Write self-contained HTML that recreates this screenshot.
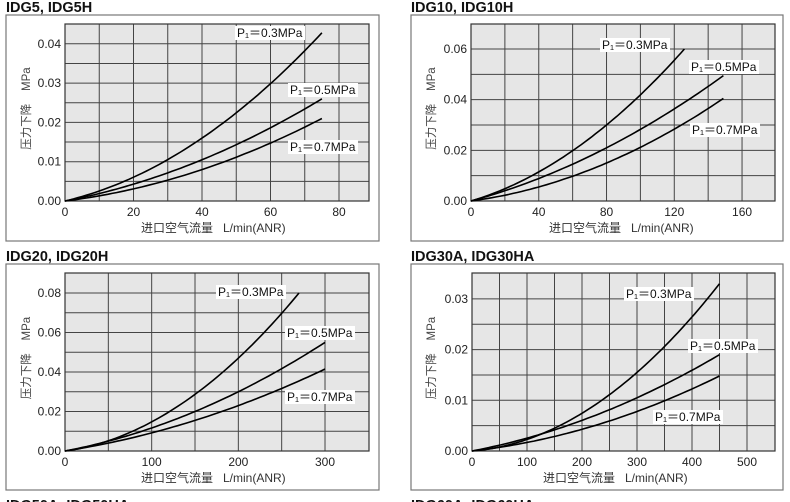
<!DOCTYPE html>
<html><head><meta charset="utf-8"><style>
html,body{margin:0;padding:0;background:#fff;width:790px;height:502px;overflow:hidden}
svg{display:block}
text{font-family:"Liberation Sans","Noto Sans CJK SC",sans-serif}
</style></head><body>
<svg id="s" width="790" height="502" xmlns="http://www.w3.org/2000/svg">
<text x="6" y="12" font-size="14.5" font-weight="bold" fill="#111">IDG5, IDG5H</text>
<text x="411" y="12" font-size="14.5" font-weight="bold" fill="#111">IDG10, IDG10H</text>
<text x="6" y="261" font-size="14.5" font-weight="bold" fill="#111">IDG20, IDG20H</text>
<text x="411" y="261" font-size="14.5" font-weight="bold" fill="#111">IDG30A, IDG30HA</text>
<text x="6" y="510" font-size="14.5" font-weight="bold" fill="#111">IDG50A, IDG50HA</text>
<text x="411" y="510" font-size="14.5" font-weight="bold" fill="#111">IDG60A, IDG60HA</text>
</svg>
<script>
var s=document.getElementById('s'),NS='http://www.w3.org/2000/svg';
function el(t,a,txt){var e=document.createElementNS(NS,t);for(var k in a)e.setAttribute(k,a[k]);if(txt!=null)e.textContent=txt;s.appendChild(e);return e;}
function chart(c){
 el('rect',{x:c.bx,y:c.by,width:c.bw,height:c.bh,fill:'#fff',stroke:'#777','stroke-width':1.2});
 el('rect',{x:c.px,y:c.pt,width:c.pr-c.px,height:c.pb-c.pt,fill:'#e6e6e6'});
 var X=function(v){return c.x0+v*c.xs},Y=function(v){return c.pb-v*c.ys};
 for(var v=c.xg;X(v)<c.pr-1;v+=c.xg)el('line',{x1:X(v),y1:c.pt,x2:X(v),y2:c.pb,stroke:'#444','stroke-width':1});
 for(var v=c.yg;Y(v)>c.pt+1;v+=c.yg)el('line',{x1:c.px,y1:Y(v),x2:c.pr,y2:Y(v),stroke:'#444','stroke-width':1});
 el('rect',{x:c.px,y:c.pt,width:c.pr-c.px,height:c.pb-c.pt,fill:'none',stroke:'#333','stroke-width':1.2});
 c.xl.forEach(function(v){el('text',{x:X(v),y:c.pb+15,'font-size':12,'text-anchor':'middle',fill:'#222'},String(v))});
 c.yl.forEach(function(v){el('text',{x:c.px-4,y:Y(v)+4,'font-size':12,'text-anchor':'end',fill:'#222'},v.toFixed(2))});
 el('text',{x:c.x0+(c.xlab||0),y:c.pb+31,'font-size':12,fill:'#333'},'进口空气流量\u00a0\u00a0\u00a0L/min(ANR)');
 var my=(c.pt+c.pb)/2-4;
 el('text',{x:0,y:0,'font-size':11.5,fill:'#444',transform:'translate('+(c.bx+24)+','+my+') rotate(-90)','text-anchor':'middle'},'压力下降\u00a0\u00a0\u00a0\u00a0MPa');
 c.cv.forEach(function(k){
  var xe=k[0],ye=k[1],xm=k[2],ym=k[3];
  var b=(ye/xe-ym/xm)/(xe-xm),a=ym/xm-b*xm;
  var d='';for(var i=0;i<=60;i++){var x=xe*i/60,y=a*x+b*x*x;d+=(i?'L':'M')+X(x).toFixed(1)+' '+Y(y).toFixed(1);}
  el('path',{d:d,fill:'none',stroke:'#000','stroke-width':1.6});});
 c.lb.forEach(function(l){el('rect',{x:l[0]-2,y:l[1]-7,width:l[2]||68,height:14,fill:'#fff'});
  el('text',{x:l[0],y:l[1]+4,'font-size':12,fill:'#111'},l[3]);});
}
var L3='P\u2081\uFF1D0.3MPa',L5='P\u2081\uFF1D0.5MPa',L7='P\u2081\uFF1D0.7MPa';
chart({bx:6,by:15,bw:373,bh:226,px:65,pr:369,pt:24,pb:201,x0:65,xs:3.425,ys:3930,xg:10,yg:0.005,xl:[0,20,40,60,80],yl:[0,0.01,0.02,0.03,0.04],xlab:76,
 cv:[[75,0.0428,40,0.016],[75,0.026,40,0.0105],[75,0.021,40,0.008]],lb:[[237,33,70,L3],[290,90,70,L5],[290,147,70,L7]]});
chart({bx:411,by:15,bw:372,bh:226,px:471,pr:775,pt:24,pb:201,x0:471,xs:1.694,ys:2533,xg:20,yg:0.01,xl:[0,40,80,120,160],yl:[0,0.02,0.04,0.06],xlab:78,
 cv:[[126,0.060,80,0.030],[149,0.0495,80,0.021],[149,0.0405,80,0.015]],lb:[[602,45,70,L3],[691,67,70,L5],[692,130,70,L7]]});
chart({bx:6,by:264,bw:373,bh:226,px:65,pr:369,pt:273,pb:451,x0:65,xs:0.8667,ys:1975,xg:50,yg:0.01,xl:[0,100,200,300],yl:[0,0.02,0.04,0.06,0.08],xlab:76,
 cv:[[270,0.080,200,0.047],[300,0.055,200,0.030],[300,0.0415,200,0.023]],lb:[[218,292,70,L3],[287,333,70,L5],[287,397,70,L7]]});
chart({bx:411,by:264,bw:372,bh:226,px:472,pr:775,pt:273,pb:451,x0:472,xs:0.55,ys:5070,xg:50,yg:0.005,xl:[0,100,200,300,400,500],yl:[0,0.01,0.02,0.03],xlab:71,
 cv:[[450,0.033,300,0.0155],[450,0.019,300,0.0105],[450,0.0148,300,0.0078]],lb:[[626,294,70,L3],[690,346,70,L5],[655,417,70,L7]]});
</script>
</body></html>
